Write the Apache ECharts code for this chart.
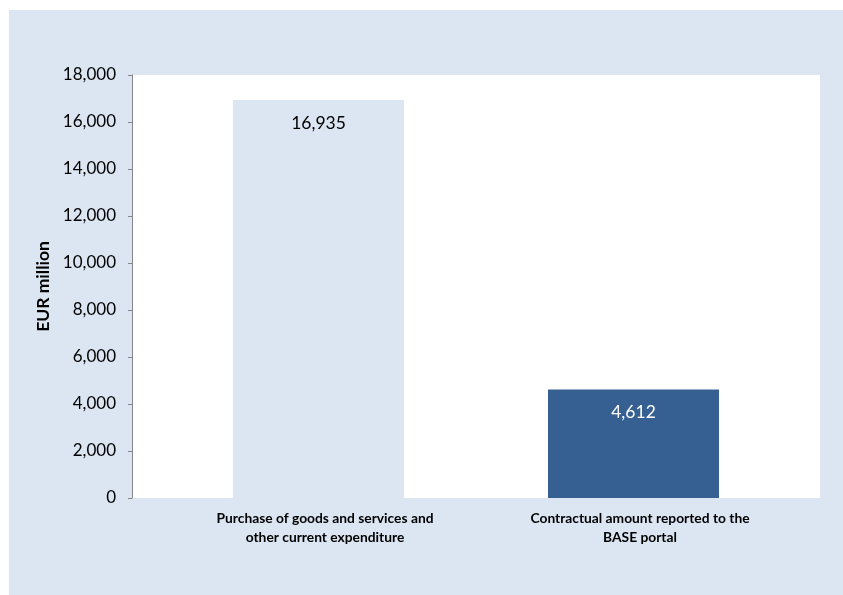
<!DOCTYPE html>
<html>
<head>
<meta charset="utf-8">
<script src="https://cdn.jsdelivr.net/npm/echarts@6/dist/echarts.min.js"></script>
<style>
  html, body { margin: 0; padding: 0; background: #ffffff; }
  #chart { width: 843px; height: 595px; }
</style>
</head>
<body>
<div id="chart"></div>
<script>
// Spending categories and amounts (EUR million)
const categories = [
  'Purchase of goods and services and\nother current expenditure',
  'Contractual amount reported to the\nBASE portal'
];
const amounts = [16935, 4612];
const barColors = ['#dce6f2', '#376092'];
const labelColors = ['#000000', '#ffffff'];
const yMin = 0, yMax = 18000, yStep = 2000;

const fontFamily = 'Lato, "Open Sans", "Liberation Sans", sans-serif';
const fmt = v => v.toLocaleString('en-US');

const chart = echarts.init(document.getElementById('chart'), null, { renderer: 'canvas' });

chart.setOption({
  animation: false,
  backgroundColor: '#ffffff',
  graphic: [{
    type: 'rect',
    left: 9, top: 10,
    shape: { width: 834, height: 585 },
    style: { fill: '#dce6f2' },
    z: -10, silent: true
  }],
  grid: [
    // plot area with the value axis
    { left: 132, right: 23, top: 75, bottom: 97, show: true, backgroundColor: '#ffffff', borderWidth: 0 },
    // inner band holding the bars
    { left: 161, right: 52, top: 75, bottom: 97 }
  ],
  xAxis: [
    { gridIndex: 0, type: 'category', data: ['', ''], show: false },
    {
      gridIndex: 1, type: 'category', data: categories,
      axisLine: { show: false }, axisTick: { show: false },
      axisLabel: {
        interval: 0, margin: 11,
        fontFamily, fontSize: 13.8, fontWeight: 'bold', color: '#000000',
        lineHeight: 19, align: 'center', padding: [0, 0, 0, 13]
      }
    }
  ],
  yAxis: [
    {
      gridIndex: 0, type: 'value', min: yMin, max: yMax, interval: yStep,
      name: 'EUR million', nameLocation: 'middle', nameRotate: 90, nameGap: 72,
      nameTextStyle: { fontFamily, fontSize: 17.5, fontWeight: 'bold', color: '#000000' },
      axisLine: { show: true, lineStyle: { color: '#868686', width: 1 } },
      axisTick: { show: true, length: 4, lineStyle: { color: '#868686' } },
      splitLine: { show: false },
      axisLabel: { fontFamily, fontSize: 17, color: '#000000', margin: 16, formatter: fmt }
    },
    {
      gridIndex: 1, type: 'value', min: yMin, max: yMax, interval: yStep, show: false,
      splitLine: { show: false }
    }
  ],
  series: [{
    type: 'bar',
    xAxisIndex: 1, yAxisIndex: 1,
    barWidth: 171,
    data: amounts.map((v, i) => ({
      value: v,
      itemStyle: { color: barColors[i] },
      label: { color: labelColors[i] }
    })),
    label: {
      show: true, position: 'insideTop', distance: 14,
      fontFamily, fontSize: 17.5,
      formatter: p => fmt(p.value)
    }
  }]
});
</script>
</body>
</html>
